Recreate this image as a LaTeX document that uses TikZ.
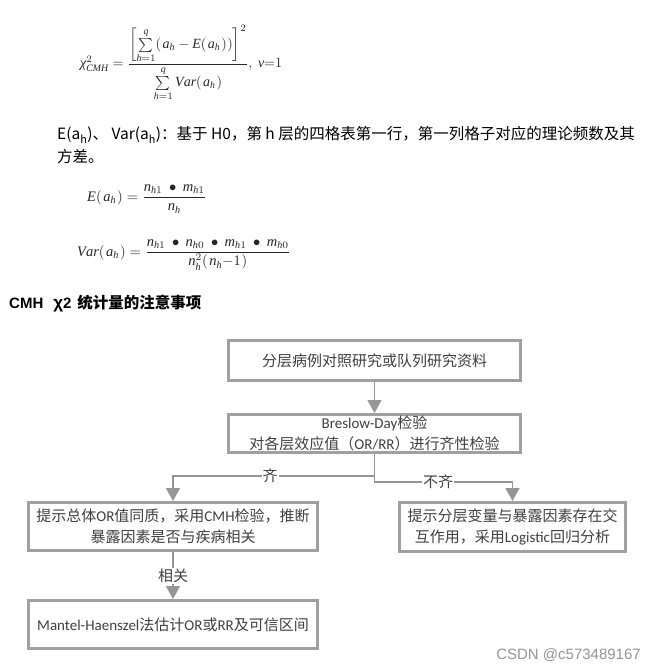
\documentclass[tikz,border=0pt]{standalone}
\usepackage{fontspec}
\setmainfont{Liberation Serif}
\usetikzlibrary{arrows.meta}
\newfontfamily\cjk{Noto Sans CJK SC}
\newfontfamily\latf{Carlito}
\newfontfamily\wmfont{Liberation Sans}
\definecolor{boxgray}{RGB}{160,160,160}
\definecolor{linegray}{RGB}{150,150,150}
\definecolor{txt}{RGB}{64,64,64}
\newcommand{\bigmath}[2][1.4]{\scalebox{#1}{$\displaystyle #2$}}
\newcommand{\vi}[1]{\mathit{#1}}
\newcommand{\bul}{\mkern4mu\bullet\mkern4mu}
\newcommand{\lp}{(\mkern2mu}
\newcommand{\rp}{\mkern1mu)}
\begin{document}
\begin{tikzpicture}[x=1pt,y=-1pt,
  flowbox/.style={draw=boxgray, line width=3pt, fill=white, align=center, text=txt, inner sep=0pt,
    font=\cjk\fontsize{15}{20.5}\selectfont},
  conn/.style={draw=linegray, line width=1.3pt, -{Triangle[width=14pt,length=13pt]}},
  lab/.style={fill=white, inner sep=1pt, text=txt, font=\cjk\fontsize{15}{17}\selectfont},
  formula/.style={inner sep=0pt, anchor=base west, text=black!85},
  para/.style={inner sep=0pt, anchor=base west, font=\cjk\fontsize{15.5}{18}\selectfont}]
\useasboundingbox[fill=white] (0,0) rectangle (654,671);

% formulas
\node[formula] (f1) at (80,68) {\bigmath[1.4]{\mbox{\itshape χ}^2_{\vi{CMH}}=\frac{\left[\sum\limits_{\vi h=1}^{\vi q}\lp\vi a_{\vi h}-\vi E\lp\vi a_{\vi h}\rp\rp\right]^2}{\sum\limits_{\vi h=1}^{\vi q}\vi{Var}\lp\vi a_{\vi h}\rp},\ \mbox{\itshape ν}{=}1}};
\node[para] (p1) at (57,140) {E(a\textsubscript{h})、 Var(a\textsubscript{h})：基于 H0，第 h 层的四格表第一行，第一列格子对应的理论频数及其};
\node[para] (p2) at (57,163) {方差。};
\node[formula] (f2) at (87,201) {\bigmath[1.45]{\vi E\lp\vi a_{\vi h}\rp=\frac{\vi n_{\vi h1}\bul \vi m_{\vi h1}}{\vi n_{\vi h}}}};
\node[formula] (f3) at (77,256) {\bigmath[1.45]{\vi{Var}\lp\vi a_{\vi h}\rp=\frac{\vi n_{\vi h1}\bul \vi n_{\vi h0}\bul \vi m_{\vi h1}\bul \vi m_{\vi h0}}{\vi n_{\vi h}^2\lp\vi n_{\vi h}{-}1\rp}}};

\node[inner sep=0pt, anchor=base west, text=black] (title) at (9,308) {{\wmfont\bfseries\fontsize{15}{17}\selectfont CMH\hspace{10pt}{\fontsize{17}{17}\selectfont χ}2}\hspace{6pt}{\cjk\bfseries\fontsize{15.5}{16}\selectfont 统计量的注意事项}};

% flowchart
\node[flowbox, minimum width=292pt, minimum height=40pt] (b1) at (374.5,360.5) {分层病例对照研究或队列研究资料};
\node[flowbox, minimum width=292pt, minimum height=38pt] (b2) at (374.5,433.5) {{\latf Breslow-Day}检验\\对各层效应值（{\latf OR/RR}）进行齐性检验};
\node[flowbox, minimum width=289pt, minimum height=48pt] (bl) at (173,526.5) {提示总体{\latf OR}值同质，采用{\latf CMH}检验，推断\\暴露因素是否与疾病相关};
\node[flowbox, minimum width=226pt, minimum height=49pt] (br) at (512.5,527) {提示分层变量与暴露因素存在交\\互作用，采用{\latf Logistic}回归分析};
\node[flowbox, minimum width=289pt, minimum height=48pt] (bb) at (173,624.5) {{\latf Mantel-Haenszel}法估计{\latf OR}或{\latf RR}及可信区间};

\draw[conn] (b1) -- (b2);
\draw[conn] (b2.south) -- ++(0,22) -| (bl.north);
\draw[conn] (b2.south) -- ++(0,28) -| (br.north);
\draw[conn] (bl) -- (bb);
\node[lab] (l1) at (270,476) {齐};
\node[lab] (l2) at (438,482) {不齐};
\node[lab] (l3) at (173,576) {相关};

\node[inner sep=0pt, anchor=east, text={rgb,255:red,150;green,150;blue,150}, font=\wmfont\fontsize{15}{17}\selectfont] (wm) at (641,655) {CSDN @c573489167};
\end{tikzpicture}
\end{document}
